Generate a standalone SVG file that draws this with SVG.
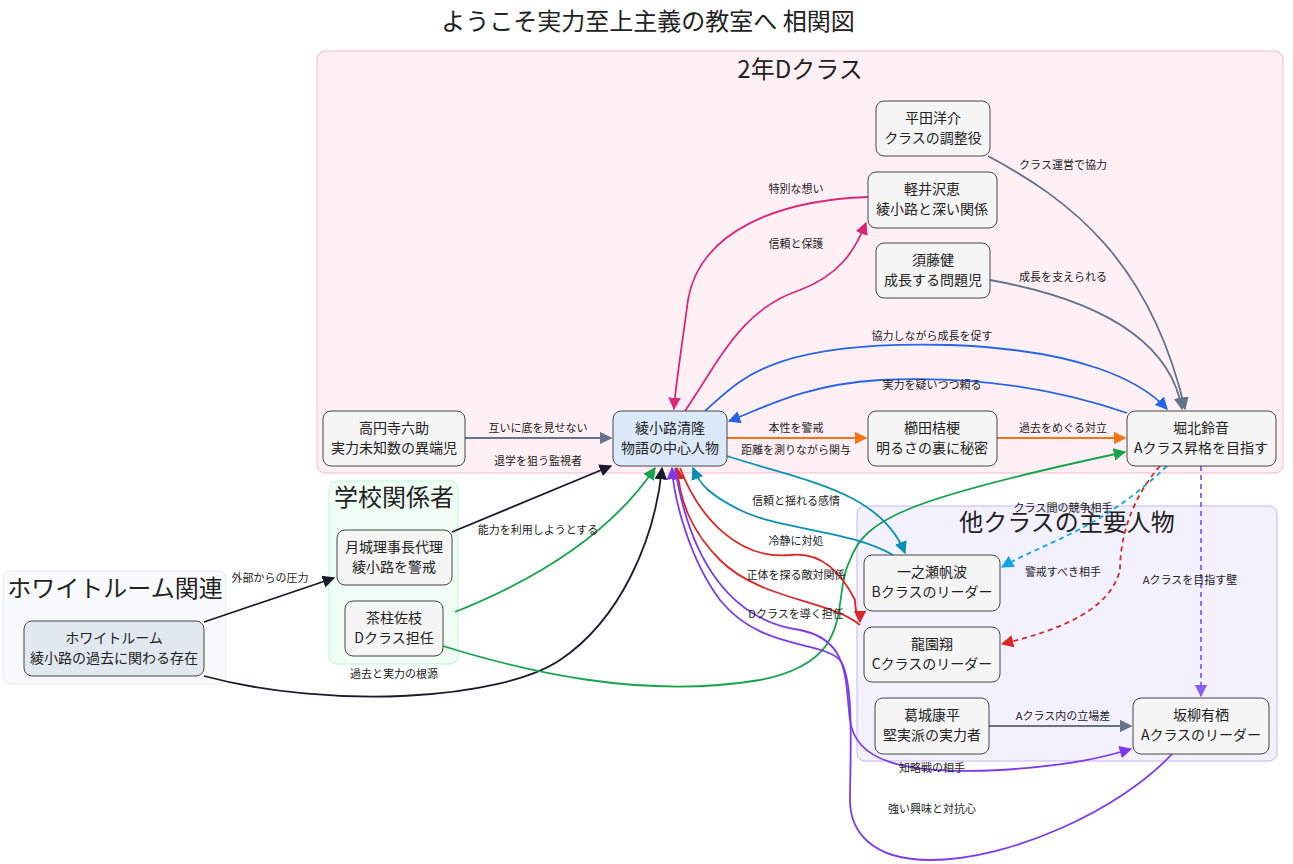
<svg xmlns="http://www.w3.org/2000/svg" width="1293" height="864" viewBox="0 0 1293 864">
<defs>
<style>
text{font-family:"Noto Sans CJK JP","Noto Sans",sans-serif;fill:#222}
.n rect{fill:#f5f5f5;stroke:#444;stroke-width:1}
.n text{font-size:14px;text-anchor:middle}
.l{font-size:11px;text-anchor:middle}
.c{font-size:24px;text-anchor:middle}
path{fill:none;stroke-width:1.8}
</style>
<marker id="a" viewBox="0 0 10 10" refX="9" refY="5" markerWidth="7" markerHeight="7" orient="auto-start-reverse"><path d="M0,0L10,5L0,10z" style="fill:context-stroke;stroke:none"/></marker>
</defs>
<rect width="1293" height="864" fill="#fff"/>
<text x="648" y="30" class="c">ようこそ実力至上主義の教室へ 相関図</text>
<g id="clusters">
<rect x="317" y="51" width="966" height="422" rx="8" fill="#fff0f5" stroke="#f9b8cc"/>
<text x="800" y="78" class="c">2年Dクラス</text>
<rect x="329" y="481" width="129" height="183" rx="8" fill="#f0fdf4" stroke="#bbf7d0"/>
<text x="394" y="506" class="c">学校関係者</text>
<rect x="3" y="571" width="223" height="113" rx="8" fill="#f8fafc" stroke="#e2e8f0"/>
<text x="115" y="597" class="c">ホワイトルーム関連</text>
<rect x="857" y="506" width="420" height="255" rx="8" fill="#f3f0ff" stroke="#c4b5fd"/>
<text x="1067" y="531" class="c">他クラスの主要人物</text>
</g>
<g id="connectors">
<path d="M465,438H611" stroke="#64748b" marker-end="url(#a)"/>
<path d="M452,532L611,466" stroke="#1a1a2e" marker-end="url(#a)"/>
<path d="M455,612C560,570 620,520 655,468" stroke="#16a34a" marker-end="url(#a)"/>
<path d="M204,622L334,578" stroke="#1a1a2e" marker-end="url(#a)"/>
<path d="M204,676C330,710 500,700 560,660C620,620 655,540 662,468" stroke="#1a1a2e" marker-end="url(#a)"/>
<path d="M443,646C520,670 640,700 760,680C860,660 830,600 850,560C865,520 900,500 1125,452" stroke="#16a34a" marker-end="url(#a)"/>
<path d="M868,197C780,200 700,230 688,300C680,360 675,390 674,409" stroke="#db2777" marker-end="url(#a)"/>
<path d="M685,411C720,360 740,310 800,290C840,275 855,250 866,223" stroke="#db2777" marker-end="url(#a)"/>
<path d="M705,411C740,380 770,340 950,345C1080,350 1140,380 1167,409" stroke="#2563eb" marker-end="url(#a)"/>
<path d="M1127,413C1060,390 980,375 880,380C800,385 760,410 729,421" stroke="#2563eb" marker-end="url(#a)"/>
<path d="M988,156C1070,200 1150,260 1185,409" stroke="#64748b" marker-end="url(#a)"/>
<path d="M990,280C1100,300 1170,340 1182,409" stroke="#64748b" marker-end="url(#a)"/>
<path d="M727,438H866" stroke="#f97316" marker-end="url(#a)"/>
<path d="M997,438H1125" stroke="#f97316" marker-end="url(#a)"/>
<path d="M727,456C800,480 880,490 905,553" stroke="#0891b2" marker-end="url(#a)"/>
<path d="M893,555C850,530 780,530 740,510C710,495 700,485 693,468" stroke="#0891b2" marker-end="url(#a)"/>
<path d="M680,468C700,520 740,560 790,555C830,550 850,590 855,600C855,615 860,620 860,622" stroke="#dc2626" marker-end="url(#a)"/>
<path d="M860,625C830,600 760,600 720,560C690,530 680,500 677,468" stroke="#dc2626" marker-end="url(#a)"/>
<path d="M675,468C690,560 730,620 800,630C850,640 845,680 850,720C855,760 900,775 1000,770C1080,765 1110,755 1131,749" stroke="#7c3aed" marker-end="url(#a)"/>
<path d="M1172,754C1120,810 1010,860 930,860C870,860 850,830 850,800C850,760 855,680 840,660C820,640 760,650 720,600C690,560 674,500 672,468" stroke="#7c3aed" marker-end="url(#a)"/>
<path d="M1167,466C1100,530 1050,540 1002,567" stroke="#0ea5e9" stroke-dasharray="5,4" marker-end="url(#a)"/>
<path d="M1160,466C1130,500 1120,540 1120,570C1110,610 1060,630 1002,644" stroke="#dc2626" stroke-dasharray="5,4" marker-end="url(#a)"/>
<path d="M1201,466V696" stroke="#8b5cf6" stroke-dasharray="5,4" marker-end="url(#a)"/>
<path d="M989,726H1131" stroke="#64748b" marker-end="url(#a)"/>
</g>
<g id="labels">
<text x="538" y="432" class="l">互いに底を見せない</text>
<text x="538" y="465" class="l">退学を狙う監視者</text>
<text x="538" y="534" class="l">能力を利用しようとする</text>
<text x="270" y="582" class="l">外部からの圧力</text>
<text x="394" y="678" class="l">過去と実力の根源</text>
<text x="796" y="618" class="l">Dクラスを導く担任</text>
<text x="796" y="193" class="l">特別な想い</text>
<text x="796" y="248" class="l">信頼と保護</text>
<text x="932" y="340" class="l">協力しながら成長を促す</text>
<text x="932" y="389" class="l">実力を疑いつつ頼る</text>
<text x="1063" y="169" class="l">クラス運営で協力</text>
<text x="1063" y="281" class="l">成長を支えられる</text>
<text x="796" y="432" class="l">本性を警戒</text>
<text x="796" y="454" class="l">距離を測りながら関与</text>
<text x="1063" y="432" class="l">過去をめぐる対立</text>
<text x="796" y="505" class="l">信頼と揺れる感情</text>
<text x="796" y="545" class="l">冷静に対処</text>
<text x="796" y="579" class="l">正体を探る敵対関係</text>
<text x="1063" y="512" class="l">クラス間の競争相手</text>
<text x="1063" y="576" class="l">警戒すべき相手</text>
<text x="1190" y="584" class="l">Aクラスを目指す壁</text>
<text x="1063" y="720" class="l">Aクラス内の立場差</text>
<text x="932" y="772" class="l">知略戦の相手</text>
<text x="932" y="813" class="l">強い興味と対抗心</text>
</g>
<g id="n1" class="n"><rect x="613" y="411" width="114" height="55" rx="8" style="fill:#dbe9fb"/><text x="670" y="433">綾小路清隆</text><text x="670" y="453">物語の中心人物</text></g>
<g id="n2" class="n"><rect x="868" y="411" width="129" height="55" rx="8"/><text x="932" y="433">櫛田桔梗</text><text x="932" y="453">明るさの裏に秘密</text></g>
<g id="n3" class="n"><rect x="1127" y="411" width="149" height="55" rx="8"/><text x="1201" y="433">堀北鈴音</text><text x="1201" y="453">Aクラス昇格を目指す</text></g>
<g id="n4" class="n"><rect x="323" y="411" width="142" height="55" rx="8"/><text x="394" y="433">高円寺六助</text><text x="394" y="453">実力未知数の異端児</text></g>
<g id="n5" class="n"><rect x="876" y="101" width="114" height="55" rx="8"/><text x="933" y="123">平田洋介</text><text x="933" y="143">クラスの調整役</text></g>
<g id="n6" class="n"><rect x="868" y="172" width="129" height="56" rx="8"/><text x="932" y="194">軽井沢恵</text><text x="932" y="214">綾小路と深い関係</text></g>
<g id="n7" class="n"><rect x="876" y="243" width="114" height="55" rx="8"/><text x="933" y="265">須藤健</text><text x="933" y="285">成長する問題児</text></g>
<g id="n8" class="n"><rect x="337" y="530" width="115" height="55" rx="8"/><text x="394" y="552">月城理事長代理</text><text x="394" y="572">綾小路を警戒</text></g>
<g id="n9" class="n"><rect x="345" y="601" width="98" height="55" rx="8"/><text x="394" y="623">茶柱佐枝</text><text x="394" y="643">Dクラス担任</text></g>
<g id="n10" class="n"><rect x="24" y="621" width="180" height="55" rx="8" style="fill:#e2e8f0"/><text x="114" y="643">ホワイトルーム</text><text x="114" y="663">綾小路の過去に関わる存在</text></g>
<g id="n11" class="n"><rect x="864" y="555" width="136" height="56" rx="8"/><text x="932" y="577">一之瀬帆波</text><text x="932" y="597">Bクラスのリーダー</text></g>
<g id="n12" class="n"><rect x="864" y="627" width="136" height="55" rx="8"/><text x="932" y="649">龍園翔</text><text x="932" y="669">Cクラスのリーダー</text></g>
<g id="n13" class="n"><rect x="875" y="698" width="114" height="56" rx="8"/><text x="932" y="720">葛城康平</text><text x="932" y="740">堅実派の実力者</text></g>
<g id="n14" class="n"><rect x="1133" y="698" width="136" height="56" rx="8"/><text x="1201" y="720">坂柳有栖</text><text x="1201" y="740">Aクラスのリーダー</text></g>
</svg>
